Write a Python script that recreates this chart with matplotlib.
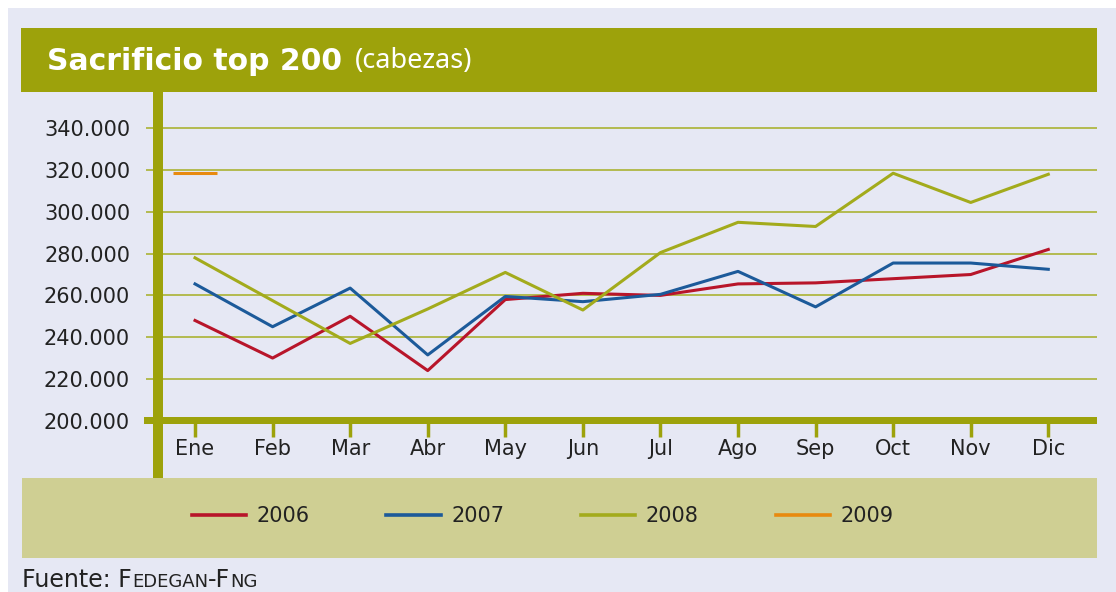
import matplotlib.pyplot as plt
from matplotlib.lines import Line2D
from matplotlib.patches import Rectangle
import numpy as np

W, H = 1116, 592

months = ["Ene", "Feb", "Mar", "Abr", "May", "Jun", "Jul", "Ago", "Sep", "Oct", "Nov", "Dic"]
series_names = ["2006", "2007", "2008", "2009"]
v2006 = [248000, 230000, 250000, 224000, 258000, 261000, 260000, 265500, 266000, 268000, 270000, 282000]
v2007 = [265500, 245000, 263500, 231500, 259500, 257000, 260500, 271500, 254500, 275500, 275500, 272500]
v2008 = [278000, 257500, 237000, 253500, 271000, 253000, 280500, 295000, 293000, 318500, 304500, 318000]
v2009 = [318500]
yticks = [200000, 220000, 240000, 260000, 280000, 300000, 320000, 340000]

colors = ["#b8152a", "#1c5a9a", "#a3ab1c", "#e88a0f"]
OLIVE = "#9da20b"
GRID = "#abb233"
LAVENDER = "#e6e8f4"
LEGEND_BG = "#cfcf93"
TXT = "#222222"


def fx(px):
    return px / W


def fy(py):
    return 1 - py / H


def box(x0, y0, x1, y1, color, z):
    r = Rectangle((fx(x0), fy(y1)), fx(x1) - fx(x0), fy(y0) - fy(y1),
                  transform=fig.transFigure, facecolor=color, edgecolor="none", zorder=z)
    fig.add_artist(r)
    return r


def text_run(x0, y, pieces, **kw):
    # draw text pieces one after another on a common baseline
    renderer = fig.canvas.get_renderer()
    xpos = x0
    for s, size in pieces:
        t = fig.text(fx(xpos), fy(y), s, fontsize=size, ha="left", va="baseline", **kw)
        xpos += t.get_window_extent(renderer).width


fig = plt.figure(figsize=(W / 100, H / 100), dpi=100, facecolor="white")
plt.rcParams["font.family"] = ["DejaVu Sans"]

# background panels sit under the axes
box(8, 8, W, H, LAVENDER, -3)
box(21, 28, 1097, 92, OLIVE, -2)
box(22, 478, 1097, 558, LEGEND_BG, -2)

ax = fig.add_axes([fx(146), fy(420.7), fx(1097) - fx(146), fy(92) - fy(420.7)])
ax.set_facecolor("none")
for s in ax.spines.values():
    s.set_visible(False)

x = np.arange(len(months))
ax.plot(x, v2006, color=colors[0], lw=2.2, zorder=3)
ax.plot(x, v2007, color=colors[1], lw=2.2, zorder=3)
ax.plot(x, v2008, color=colors[2], lw=2.2, zorder=3)
ax.plot(x[:len(v2009)], v2009, color=colors[3], lw=2.2, marker="_",
        markersize=32, markeredgewidth=2.2, zorder=3)

ax.set_xlim(-0.632, 11.628)
ax.set_ylim(200000, 357400)
ax.set_xticks(x)
ax.set_xticklabels(months, fontsize=15, color=TXT)
ax.set_yticks(yticks)
ax.set_yticklabels([f"{v:,.0f}".replace(",", ".") for v in yticks], fontsize=15, color=TXT)
ax.tick_params(axis="y", length=0, pad=11.5)
ax.tick_params(axis="x", direction="out", length=11.5, width=2.5, color=OLIVE, pad=2)
ax.grid(axis="y", color=GRID, lw=1.2)
ax.set_axisbelow(True)

# thick axis bars on top
box(153, 92, 163, 478, OLIVE, 2)
box(144, 417, 1097, 424, OLIVE, 2)

# title
fig.text(fx(47), fy(61), "Sacrificio top 200", color="white", fontsize=21.5,
         fontweight="bold", ha="left", va="center")
fig.text(fx(355), fy(61), "(cabezas)", color="white", fontsize=19.5,
         family=["Noto Sans", "DejaVu Sans"], ha="left", va="center")

handles = [Line2D([], [], color=c, lw=2.6) for c in colors]
fig.legend(handles, series_names, loc="center", bbox_to_anchor=(fx(542.5), fy(516)),
           ncol=4, frameon=False, fontsize=15, handlelength=2.6, handletextpad=0.5,
           columnspacing=3.7, labelcolor=TXT)

text_run(22, 587, [("Fuente: F", 17), ("EDEGAN", 13), ("-F", 17), ("NG", 13)],
         color=TXT, family=["DejaVu Sans"])

fig.savefig("out.png", dpi=100, facecolor="white")
